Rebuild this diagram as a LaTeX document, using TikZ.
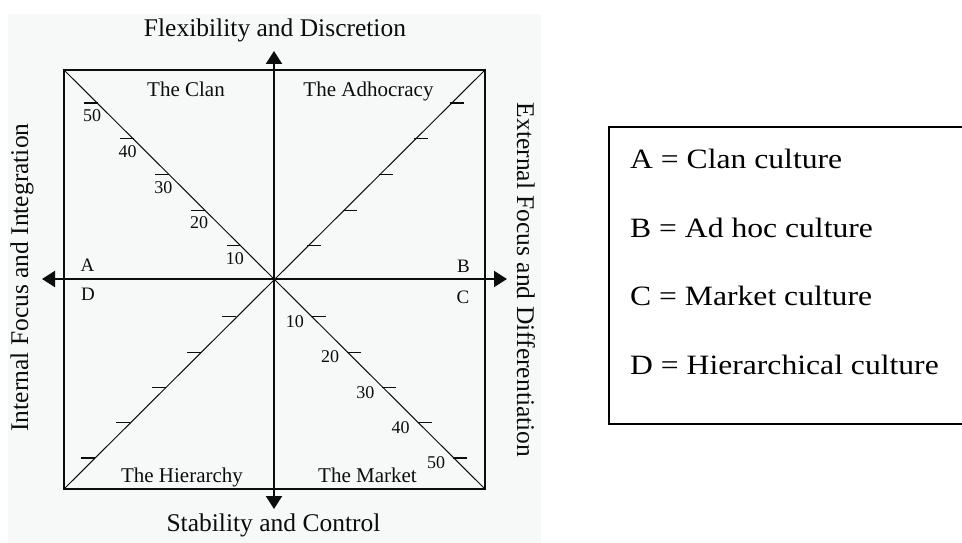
\documentclass[tikz,border=0pt]{standalone}
\usepackage{fontspec}
\setmainfont{Liberation Serif}
\newfontfamily\legendfont[FakeStretch=1.13]{Liberation Serif}
\usetikzlibrary{arrows.meta}
\definecolor{scanbg}{RGB}{247,249,249}
\definecolor{ink}{RGB}{12,12,12}
\begin{document}
\begin{tikzpicture}[x=1pt,y=-1pt,
  axis/.style={line width=2pt, draw=ink, {Triangle[length=13pt,width=16pt]}-{Triangle[length=13pt,width=16pt]}},
  frame/.style={line width=1.4pt, draw=ink},
  diag/.style={line width=1pt, draw=ink},
  tickmark/.style={line width=1.1pt, draw=ink},
  title/.style={font=\fontsize{25.5}{30}\selectfont, inner sep=0pt, anchor=base, text=ink},
  quad/.style={font=\fontsize{21}{25}\selectfont, inner sep=0pt, anchor=base, text=ink},
  num/.style={font=\fontsize{18}{21}\selectfont, inner sep=0pt, text=ink},
  corner/.style={font=\fontsize{19}{22}\selectfont, inner sep=0pt, anchor=base, text=ink},
  legend/.style={font=\legendfont\fontsize{28}{34}\selectfont, anchor=base west, inner sep=0pt},
  legendbox/.style={line width=2pt, draw=black}]
\useasboundingbox (0,0) rectangle (962,543);
\clip (0,0) rectangle (962,543);
\fill[scanbg] (8,14) rectangle (541,543);
% square corners and centre
\coordinate (tl) at (64,70);
\coordinate (tr) at (485,70);
\coordinate (bl) at (64,489);
\coordinate (br) at (485,489);
\coordinate (O) at (274,279);
% axis ends
\coordinate (top) at (274,51);
\coordinate (bot) at (274,509);
\coordinate (lft) at (42,279);
\coordinate (rgt) at (507,279);
\draw[frame] (tl) -- (tr) -- (br) -- (bl) -- cycle;
\draw[diag] (tl) -- (br);
\draw[diag] (bl) -- (tr);
\draw[axis] (bot) -- (top);
\draw[axis] (lft) -- (rgt);
% ticks
\foreach \k in {1,...,5} {
  \pgfmathsetmacro\du{35.7*\k-2.5}
  \pgfmathsetmacro\dl{35.3*\k+2.5}
  \pgfmathtruncatemacro\lab{10*\k}
  % clan (upper left)
  \draw[tickmark] (274-\du,279-\du) -- ++(-14,0);
  \node[num] (c\k) at (268-\du,292-\du) {\lab};
  % adhocracy (upper right)
  \draw[tickmark] (274+\du,279-\du) -- ++(14,0);
  % hierarchy (lower left)
  \draw[tickmark] (274-\dl,279+\dl) -- ++(-14,0);
  % market (lower right)
  \draw[tickmark] (274+\dl,279+\dl) -- ++(14,0);
  \node[num] (m\k) at (257+\dl,284+\dl) {\lab};
}
% quadrant labels
\node[quad] (clan) at (186,97) {The Clan};
\node[quad] (adhoc) at (368.5,96) {The Adhocracy};
\node[quad] (hier) at (182,482) {The Hierarchy};
\node[quad] (mkt) at (367.5,482) {The Market};
% corner letters
\node[corner] (A) at (87.5,271) {A};
\node[corner] (D) at (88,300) {D};
\node[corner] (B) at (463.5,272) {B};
\node[corner] (C) at (463,303) {C};
% axis titles
\node[title] (ttop) at (275,37) {Flexibility and Discretion};
\node[title] (tbot) at (273.5,531) {Stability and Control};
\node[title, rotate=90] (tleft) at (28,277.5) {Internal Focus and Integration};
\node[title, rotate=-90] (tright) at (517,280) {External Focus and Differentiation};
% legend
\draw[legendbox] (980,127) -- (609,127) -- (609,424) -- (980,424);
\node[legend] (la) at (630,168) {A = Clan culture};
\node[legend] (lb) at (630,237) {B = Ad hoc culture};
\node[legend] (lc) at (630,305) {C = Market culture};
\node[legend] (ld) at (630,374) {D = Hierarchical culture};
\end{tikzpicture}
\end{document}
